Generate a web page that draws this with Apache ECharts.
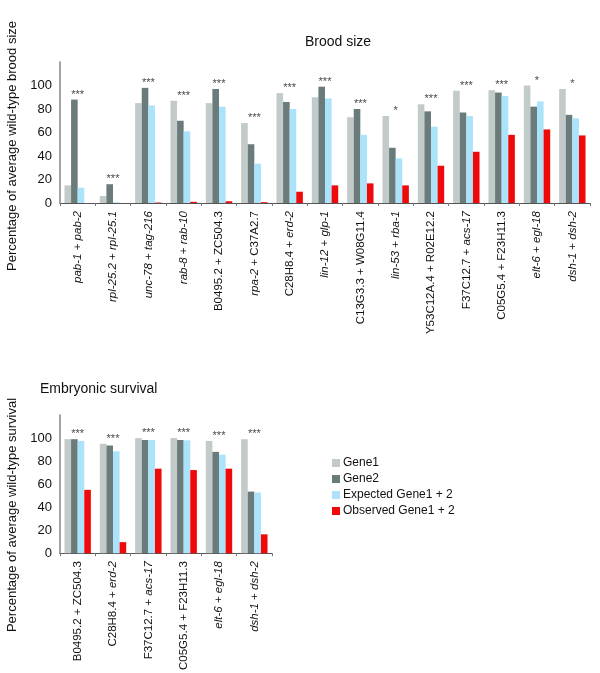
<!DOCTYPE html>
<html><head><meta charset="utf-8">
<script src="https://cdn.jsdelivr.net/npm/echarts@6/dist/echarts.min.js"></script>
<style>html,body{margin:0;padding:0;background:#fff}#c{width:600px;height:673px}</style>
</head><body><div id="c"></div>
<script>
// ---- Brood size data ----
var broodCats = ['pab-1 + pab-2','rpl-25.2 + rpl-25.1','unc-78 + tag-216','rab-8 + rab-10','B0495.2 + ZC504.3','rpa-2 + C37A2.7','C28H8.4 + erd-2','lin-12 + glp-1','C13G3.3 + W08G11.4','lin-53 + rba-1','Y53C12A.4 + R02E12.2','F37C12.7 + acs-17','C05G5.4 + F23H11.3','elt-6 + egl-18','dsh-1 + dsh-2'];
var broodGene1    = [15, 6, 85, 87, 85, 68, 93.5, 90, 73, 74, 84, 95.5, 96, 100, 97];
var broodGene2    = [88, 16, 98, 70, 97, 50, 86, 99, 80, 47, 78, 77, 94, 82, 75];
var broodExpected = [13, 0.6, 83, 61, 82, 33.5, 80, 89, 58, 38, 65, 74, 91, 86.5, 72];
var broodObserved = [0, 0, 0.4, 1, 1.5, 0.7, 9.6, 15, 16.7, 15, 31.7, 43.6, 58, 62.6, 57.5];
var broodStars    = ['***','***','***','***','***','***','***','***','***','*','***','***','***','*','*'];

// ---- Embryonic survival data ----
var embCats = ['B0495.2 + ZC504.3','C28H8.4 + erd-2','F37C12.7 + acs-17','C05G5.4 + F23H11.3','elt-6 + egl-18','dsh-1 + dsh-2'];
var embGene1    = [99, 95, 100, 100, 97.5, 99];
var embGene2    = [99, 93.5, 98.3, 98.3, 88, 53.5];
var embExpected = [97.5, 88.5, 98.3, 98, 85.6, 52.7];
var embObserved = [55, 9.6, 73.4, 72.2, 73.4, 16.4];
var embStars    = ['***','***','***','***','***','***'];

var yTicks = [0, 20, 40, 60, 80, 100];
var seriesNames = ['Gene1', 'Gene2', 'Expected Gene1 + 2', 'Observed Gene1 + 2'];
var colors = ['#c2caca', '#6b7b7b', '#abe3fb', '#ee0a0a'];

var FONT = '"Liberation Sans", Arial, Helvetica, sans-serif';

function fmtCat(s) {
  return s.split(' + ').map(function (p) {
    return /^[a-z]{3}-\d/.test(p) ? '{i|' + p + '}' : '{n|' + p + '}';
  }).join('{n| + }');
}

function xAxis(gridIndex, cats) {
  return {
    type: 'category', gridIndex: gridIndex, data: cats,
    axisLine: { lineStyle: { color: '#555', width: 1 } },
    axisTick: { show: true, length: 3, lineStyle: { color: '#777' } },
    axisLabel: {
      rotate: 90, margin: 8, interval: 0,
      formatter: fmtCat,
      rich: {
        i: { fontStyle: 'italic', fontSize: 11.5, fontFamily: FONT, color: '#111' },
        n: { fontSize: 11.5, fontFamily: FONT, color: '#111' }
      }
    }
  };
}
function yAxis(gridIndex) {
  return {
    type: 'value', gridIndex: gridIndex, min: 0, max: 120, interval: 20,
    splitLine: { show: false },
    axisLine: { show: true, lineStyle: { color: '#7d8a8a', width: 1.5 } },
    axisTick: { show: false },
    axisLabel: {
      fontSize: 13, fontFamily: FONT, color: '#111', margin: 8,
      formatter: function (v) { return yTicks.indexOf(v) >= 0 ? String(v) : ''; }
    }
  };
}
function bars(gridIndex, arrs) {
  return arrs.map(function (d, k) {
    return {
      name: seriesNames[k], type: 'bar', xAxisIndex: gridIndex, yAxisIndex: gridIndex,
      data: d, barWidth: 6.6, barGap: '0%',
      itemStyle: { color: colors[k] }, emphasis: { disabled: true }
    };
  });
}
function stars(gridIndex, arrs, st) {
  var data = st.map(function (s, i) {
    return { value: Math.max(arrs[0][i], arrs[1][i], arrs[2][i], arrs[3][i]), label: { formatter: s } };
  });
  return {
    type: 'scatter', xAxisIndex: gridIndex, yAxisIndex: gridIndex, data: data,
    symbolSize: 1, itemStyle: { color: 'rgba(0,0,0,0)' }, silent: true,
    label: { show: true, position: 'top', distance: -1, fontSize: 11, fontFamily: FONT, color: '#111' }
  };
}

var broodArrs = [broodGene1, broodGene2, broodExpected, broodObserved];
var embArrs = [embGene1, embGene2, embExpected, embObserved];

var option = {
  animation: false,
  backgroundColor: '#fff',
  title: [
    { text: 'Brood size', left: 300, top: 30, textStyle: { fontSize: 14, fontWeight: 'normal', fontFamily: FONT, color: '#111' } },
    { text: 'Embryonic survival', left: 35, top: 377, textStyle: { fontSize: 14, fontWeight: 'normal', fontFamily: FONT, color: '#111' } }
  ],
  legend: {
    orient: 'vertical', left: 332, top: 456, padding: 0, itemWidth: 8, itemHeight: 8, itemGap: 2,
    icon: 'rect', data: seriesNames,
    textStyle: { fontSize: 12, lineHeight: 14, fontFamily: FONT, color: '#111', padding: [0, 0, 0, -2] }
  },
  grid: [
    { left: 60, width: 530, top: 62, height: 141 },
    { left: 60, width: 212, top: 415, height: 142 }
  ],
  xAxis: [xAxis(0, broodCats), xAxis(1, embCats)],
  yAxis: [yAxis(0), yAxis(1)],
  graphic: [
    { type: 'text', x: 12, y: 146, rotation: Math.PI / 2,
      style: { text: 'Percentage of average wild-type brood size', font: '13px ' + FONT, fill: '#111', align: 'center', verticalAlign: 'middle' } },
    { type: 'text', x: 12, y: 515, rotation: Math.PI / 2,
      style: { text: 'Percentage of average wild-type survival', font: '13px ' + FONT, fill: '#111', align: 'center', verticalAlign: 'middle' } }
  ],
  series: [].concat(bars(0, broodArrs), [stars(0, broodArrs, broodStars)], bars(1, embArrs), [stars(1, embArrs, embStars)])
};
var chart = echarts.init(document.getElementById('c'), null, { renderer: 'canvas' });
chart.setOption(option);
</script>
</body></html>
